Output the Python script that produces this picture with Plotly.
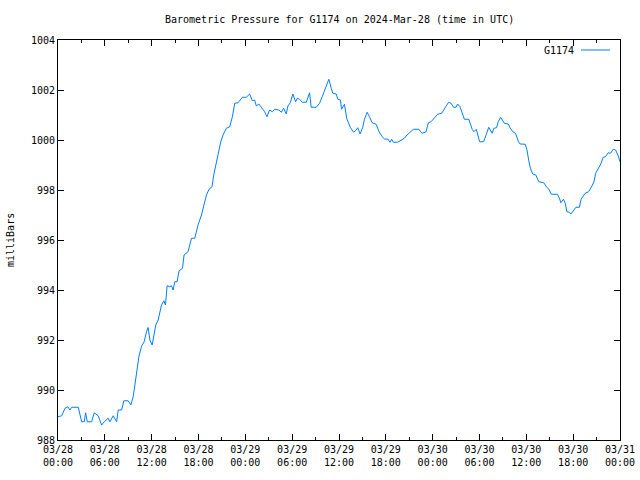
import pandas as pd
import plotly.graph_objects as go

# Hours since 2024-03-28 00:00 UTC and pressure readings (mb)
hours = [0.0, 0.47, 0.90, 1.24, 1.53, 1.75, 2.60, 3.03, 3.36, 3.54, 3.75, 4.31, 4.64, 5.15,
         5.59, 5.92, 6.43, 6.65, 7.07, 7.51, 7.71, 8.15, 8.44, 8.99, 9.34, 9.63, 9.85, 10.14,
         10.36, 10.70, 11.04, 11.34, 11.55, 11.77, 12.06, 12.53, 12.83, 13.26, 13.56, 13.77,
         13.98, 14.32, 14.54, 14.75, 14.96, 15.26, 15.51, 15.95, 16.15, 16.66, 17.10, 17.52,
         17.94, 18.38, 18.71, 19.02, 19.35, 19.73, 19.95, 20.21, 20.42, 20.63, 20.85, 21.14,
         21.57, 22.00, 22.34, 22.64, 23.06, 23.62, 24.13, 24.55, 24.90, 25.19, 25.41, 25.74,
         26.05, 26.47, 26.77, 27.11, 27.46, 27.75, 28.30, 28.61, 28.90, 29.25, 29.45, 29.76,
         30.09, 30.44, 30.66, 30.95, 31.30, 31.81, 32.23, 32.44, 33.08, 33.51, 33.85, 34.15,
         34.36, 34.70, 35.00, 35.21, 35.64, 35.85, 36.19, 36.32, 36.70, 37.00, 37.44, 37.86,
         38.11, 38.40, 38.71, 39.04, 39.26, 39.61, 39.90, 40.25, 40.76, 41.09, 41.53, 41.82,
         42.24, 42.55, 42.75, 42.97, 43.52, 43.96, 44.38, 44.72, 45.14, 45.53, 46.21, 46.64,
         47.15, 47.45, 47.79, 48.21, 48.64, 49.15, 49.49, 49.79, 50.04, 50.35, 50.68, 50.99,
         51.19, 51.50, 51.85, 52.06, 52.63, 53.06, 53.28, 53.59, 54.01, 54.53, 54.88, 55.18,
         55.62, 55.84, 56.18, 56.40, 56.71, 57.18, 57.70, 57.91, 58.27, 58.61, 59.00, 59.21,
         59.87, 60.08, 60.30, 60.52, 60.82, 61.21, 61.60, 62.24, 62.60, 62.90, 63.20, 63.98,
         64.24, 64.42, 64.76, 64.98, 65.20, 65.50, 65.72, 65.94, 66.36, 66.80, 67.01, 67.54,
         67.97, 68.32, 68.67, 68.88, 69.19, 69.54, 69.84, 70.14, 70.49, 70.79, 71.13, 71.44,
         71.78, 72.0]
pressure = [988.93, 988.97, 989.27, 989.33, 989.20, 989.31, 989.31, 988.73, 988.73, 989.09,
            988.73, 988.73, 989.09, 988.97, 988.60, 988.73, 988.87, 988.73, 988.97, 988.73,
            989.20, 989.20, 989.57, 989.57, 989.40, 989.73, 990.20, 990.80, 991.33, 991.75,
            991.93, 992.33, 992.50, 992.00, 991.80, 992.60, 992.80, 993.40, 993.57, 993.40,
            994.17, 994.13, 994.17, 994.00, 994.33, 994.33, 994.77, 994.87, 995.40, 995.53,
            996.07, 996.07, 996.60, 997.00, 997.40, 997.80, 998.03, 998.13, 998.60, 999.00,
            999.40, 999.63, 999.93, 1000.20, 1000.47, 1000.53, 1000.93, 1001.47, 1001.49,
            1001.71, 1001.71, 1001.84, 1001.57, 1001.60, 1001.36, 1001.44, 1001.31, 1001.13,
            1000.93, 1001.20, 1001.13, 1001.23, 1001.20, 1001.11, 1001.27, 1001.04, 1001.36,
            1001.49, 1001.84, 1001.53, 1001.67, 1001.63, 1001.51, 1001.51, 1001.89, 1001.31,
            1001.31, 1001.47, 1001.73, 1002.00, 1002.20, 1002.43, 1002.07, 1001.87, 1001.84,
            1001.63, 1001.60, 1001.23, 1001.43, 1000.85, 1000.51, 1000.31, 1000.37, 1000.49,
            1000.24, 1000.51, 1000.83, 1001.11, 1000.93, 1000.69, 1000.63, 1000.36, 1000.13,
            1000.04, 1000.04, 999.91, 1000.03, 999.91, 999.91, 1000.00, 1000.07, 1000.20,
            1000.31, 1000.43, 1000.43, 1000.27, 1000.33, 1000.69, 1000.73, 1000.89, 1001.03,
            1001.07, 1001.23, 1001.37, 1001.51, 1001.47, 1001.31, 1001.31, 1001.44, 1001.33,
            1001.00, 1000.83, 1000.83, 1000.43, 1000.33, 1000.43, 999.93, 999.93, 1000.23,
            1000.51, 1000.27, 1000.47, 1000.49, 1000.73, 1000.91, 1000.67, 1000.64, 1000.49,
            1000.33, 1000.27, 999.93, 999.84, 999.83, 999.60, 999.20, 998.87, 998.64, 998.60,
            998.33, 998.29, 998.11, 998.03, 997.83, 997.83, 997.67, 997.49, 997.63, 997.47,
            997.13, 997.11, 997.04, 997.13, 997.31, 997.31, 997.63, 997.87, 997.93, 998.11,
            998.33, 998.67, 998.83, 999.04, 999.31, 999.33, 999.49, 999.47, 999.63, 999.60,
            999.36, 999.13]

tick_times = ["2024-03-28 00:00", "2024-03-28 06:00", "2024-03-28 12:00", "2024-03-28 18:00",
              "2024-03-29 00:00", "2024-03-29 06:00", "2024-03-29 12:00", "2024-03-29 18:00",
              "2024-03-30 00:00", "2024-03-30 06:00", "2024-03-30 12:00", "2024-03-30 18:00",
              "2024-03-31 00:00"]
tick_labels = ["03/28<br>00:00", "03/28<br>06:00", "03/28<br>12:00", "03/28<br>18:00",
               "03/29<br>00:00", "03/29<br>06:00", "03/29<br>12:00", "03/29<br>18:00",
               "03/30<br>00:00", "03/30<br>06:00", "03/30<br>12:00", "03/30<br>18:00",
               "03/31<br>00:00"]
y_ticks = [988, 990, 992, 994, 996, 998, 1000, 1002, 1004]

base = pd.Timestamp("2024-03-28 00:00")
times = base + pd.to_timedelta(hours, unit="h")

FONT = "DejaVu Sans Mono"
PW = 562  # plot width in px
PH = 400  # plot height in px
fig = go.Figure()
fig.add_trace(go.Scatter(x=times, y=pressure, mode="lines", name="G1174",
                         line=dict(color="#0080ff", width=1), showlegend=False))

fig.update_layout(
    width=640, height=480,
    margin=dict(l=58, r=20, t=40, b=40, autoexpand=False),
    paper_bgcolor="white", plot_bgcolor="white",
    font=dict(family=FONT, size=10, color="black"),
    annotations=[
        dict(text="Barometric Pressure for G1174 on 2024-Mar-28 (time in UTC)",
             xref="paper", yref="paper", x=0.5, y=1 + 21 / PH, xanchor="center",
             yanchor="middle", showarrow=False, font=dict(family=FONT, size=10)),
        dict(text="milliBars", xref="paper", yref="paper", x=-48 / PW, y=0.5,
             textangle=-90, xanchor="center", yanchor="middle", showarrow=False,
             font=dict(family=FONT, size=10)),
        dict(text="G1174", xref="paper", yref="paper", x=(576 - 58) / PW, y=1 - 10 / PH,
             xanchor="right", yanchor="middle", showarrow=False,
             font=dict(family=FONT, size=10)),
    ],
    shapes=[
        dict(type="line", xref="paper", yref="paper",
             x0=(581 - 58) / PW, x1=(610 - 58) / PW, y0=1 - 10 / PH, y1=1 - 10 / PH,
             line=dict(color="#0080ff", width=1)),
    ],
)
fig.update_xaxes(
    type="date", automargin=False,
    range=[tick_times[0], tick_times[-1]],
    tickvals=tick_times, ticktext=tick_labels,
    ticks="inside", ticklen=6, tickcolor="black", tickwidth=1,
    showline=True, linecolor="black", linewidth=1, mirror="ticks",
    showgrid=False, zeroline=False,
    minor=dict(ticks="inside", ticklen=3, dtick=3 * 3600 * 1000, tickcolor="black",
               showgrid=False),
    tickfont=dict(family=FONT, size=10),
)
fig.update_yaxes(
    range=[988, 1004], tickvals=y_ticks, automargin=False,
    ticks="inside", ticklen=6, tickcolor="black", tickwidth=1,
    showline=True, linecolor="black", linewidth=1, mirror="ticks",
    showgrid=False, zeroline=False,
    tickfont=dict(family=FONT, size=10),
)

fig.write_html("out.html")
